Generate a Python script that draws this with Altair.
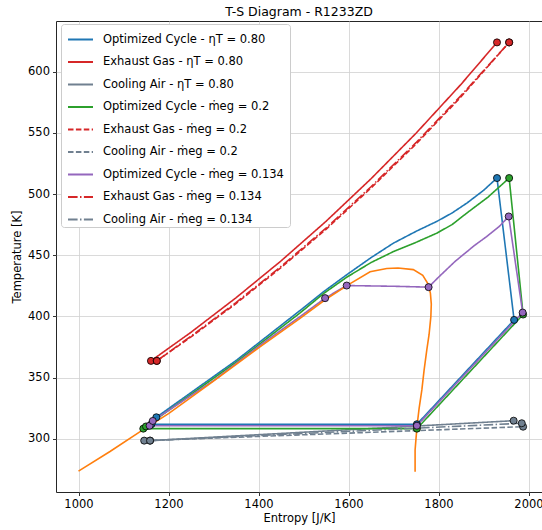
import altair as alt
import pandas as pd

# ---------------- data ----------------
names = [
    "Optimized Cycle - ηT =  0.80",
    "Exhaust Gas - ηT =  0.80",
    "Cooling Air - ηT =  0.80",
    "Optimized Cycle - ṁeg =  0.2",
    "Exhaust Gas - ṁeg =  0.2",
    "Cooling Air - ṁeg =  0.2",
    "Optimized Cycle - ṁeg =  0.134",
    "Exhaust Gas - ṁeg =  0.134",
    "Cooling Air - ṁeg =  0.134",
]
colors = ["#1f77b4", "#d62728", "#708090",
          "#2ca02c", "#d62728", "#708090",
          "#9467bd", "#d62728", "#708090"]
dashes = [[1, 0], [1, 0], [1, 0],
          [1, 0], [5.5, 2.4], [5.5, 2.4],
          [1, 0], [9.6, 2.4, 1.5, 2.4], [9.6, 2.4, 1.5, 2.4]]

# saturation dome (orange)
dome_S = [1000, 1070, 1137, 1200, 1300, 1404, 1493, 1548, 1600, 1648, 1685, 1710, 1744,
          1765, 1776, 1782, 1784, 1783, 1779, 1774, 1768, 1763, 1757, 1753, 1750, 1748, 1748]
dome_T = [273.5, 289.5, 305.7, 320.5, 347.0, 375.3, 398.5, 413.6, 426.0, 436.5, 439.2, 439.5, 438.2,
          433.5, 427.0, 419.0, 410.0, 399.8, 385.0, 372.6, 356.0, 339.9, 325.0, 312.6, 300.0, 290.8, 273.0]

# cycle eta_T = 0.80 (blue)
blue_S = [1162, 1173, 1352, 1493, 1544, 1596, 1650, 1700, 1750, 1796, 1830, 1863, 1900, 1930, 1968, 1752, 1162]
blue_T = [311.8, 317.5, 364.4, 405.0, 420.0, 434.0, 448.0, 459.9, 469.5, 477.6, 484.5, 492.6, 503.0, 513.1, 397.1, 311.8, 311.8]

# cycle m_eg = 0.2 (green)
green_S = [1144, 1150, 1352, 1493, 1544, 1596, 1650, 1700, 1750, 1796, 1830, 1863, 1910, 1957, 1988, 1752, 1144]
green_T = [308.2, 310.0, 363.0, 403.0, 418.5, 432.0, 444.0, 453.0, 460.5, 468.0, 475.0, 484.5, 497.5, 513.1, 401.5, 308.2, 308.2]

# cycle m_eg = 0.134 (purple)
purple_S = [1158, 1165, 1300, 1404, 1493, 1548, 1596, 1700, 1778, 1800, 1837, 1880, 1908, 1935, 1956, 1987, 1752, 1158]
purple_T = [310.6, 314.5, 347.5, 376.5, 400.0, 414.9, 425.2, 424.6, 423.9, 432.0, 445.0, 458.0, 465.5, 473.5, 481.7, 403.1, 310.6, 310.6]

# exhaust gas lines
eg1_S = [1161, 1250, 1350, 1450, 1550, 1650, 1750, 1850, 1930]
eg1_T = [363.6, 387.0, 415.2, 445.3, 477.7, 512.5, 549.7, 589.7, 624.0]
eg2_S = [1174, 1250, 1350, 1450, 1550, 1650, 1750, 1850, 1957]
eg2_T = [363.6, 383.2, 410.5, 439.9, 471.2, 504.9, 540.9, 579.5, 624.0]
eg3_S = [1174, 1250, 1350, 1450, 1550, 1650, 1750, 1850, 1957]
eg3_T = [363.6, 383.8, 411.3, 440.8, 472.2, 506.0, 542.0, 580.5, 624.0]

# cooling air lines
air1_S = [1159, 1967]
air1_T = [298.4, 314.7]
air2_S = [1146, 1988]
air2_T = [298.4, 309.8]
air3_S = [1159, 1985]
air3_T = [298.4, 312.6]

# state points (markers)
blue_pts_S = [1162, 1173, 1930, 1968, 1752]
blue_pts_T = [311.8, 317.5, 513.1, 397.1, 311.8]
green_pts_S = [1144, 1150, 1957, 1988, 1752]
green_pts_T = [308.2, 310.0, 513.1, 401.5, 308.2]
purple_pts_S = [1158, 1165, 1548, 1596, 1778, 1956, 1987, 1752]
purple_pts_T = [310.6, 314.5, 414.9, 425.2, 423.9, 481.7, 403.1, 310.6]

# ---------------- tables ----------------
line_sets = [
    (names[0], blue_S, blue_T),
    (names[1], eg1_S, eg1_T),
    (names[2], air1_S, air1_T),
    (names[3], green_S, green_T),
    (names[4], eg2_S, eg2_T),
    (names[5], air2_S, air2_T),
    (names[6], purple_S, purple_T),
    (names[7], eg3_S, eg3_T),
    (names[8], air3_S, air3_T),
]
rows = []
for nm, ss, tt in line_sets:
    for i, (s, t) in enumerate(zip(ss, tt)):
        rows.append({"series": nm, "i": i, "S": s, "T": t})
lines_df = pd.DataFrame(rows)

dome_df = pd.DataFrame({"i": range(len(dome_S)), "S": dome_S, "T": dome_T})

pt_sets = [
    (names[0], blue_pts_S, blue_pts_T),
    (names[1], [eg1_S[0], eg1_S[-1]], [eg1_T[0], eg1_T[-1]]),
    (names[2], air1_S, air1_T),
    (names[3], green_pts_S, green_pts_T),
    (names[4], [eg2_S[0], eg2_S[-1]], [eg2_T[0], eg2_T[-1]]),
    (names[5], air2_S, air2_T),
    (names[6], purple_pts_S, purple_pts_T),
    (names[7], [eg3_S[0], eg3_S[-1]], [eg3_T[0], eg3_T[-1]]),
    (names[8], air3_S, air3_T),
]
prow = []
k = 0
for nm, ss, tt in pt_sets:
    for s, t in zip(ss, tt):
        prow.append({"series": nm, "k": k, "S": s, "T": t})
        k += 1
pts_df = pd.DataFrame(prow)

# ---------------- chart ----------------
FONT = "DejaVu Sans"
xs = alt.Scale(domain=[950, 2030], nice=False, zero=False)
ys = alt.Scale(domain=[256.4, 641.5], nice=False, zero=False)
xax = alt.Axis(title="Entropy [J/K]", values=[1000, 1200, 1400, 1600, 1800, 2000], format="d")
yax = alt.Axis(title="Temperature [K]", values=[300, 350, 400, 450, 500, 550, 600], format="d")

leg = alt.Legend(title=None, orient="none", legendX=5, legendY=3, fillColor="white",
                 strokeColor="#cccccc", cornerRadius=3, padding=2, symbolOffset=4,
                 labelFontSize=11.5, labelFont=FONT, labelColor="#000000",
                 labelLimit=400, symbolType="stroke", symbolSize=625,
                 symbolStrokeWidth=2, labelOffset=9, rowPadding=3.5)

lines = alt.Chart(lines_df).mark_line(strokeWidth=1.6).encode(
    x=alt.X("S:Q", scale=xs, axis=xax),
    y=alt.Y("T:Q", scale=ys, axis=yax),
    order="i:Q",
    color=alt.Color("series:N", scale=alt.Scale(domain=names, range=colors), legend=leg, sort=names),
    strokeDash=alt.StrokeDash("series:N", scale=alt.Scale(domain=names, range=dashes), legend=leg, sort=names),
)

dome = alt.Chart(dome_df).mark_line(strokeWidth=1.6, color="#ff7f0e").encode(
    x=alt.X("S:Q", scale=xs),
    y=alt.Y("T:Q", scale=ys),
    order="i:Q",
)

points = alt.Chart(pts_df).mark_circle(size=50, opacity=1, stroke="black", strokeWidth=0.8).encode(
    x=alt.X("S:Q", scale=xs),
    y=alt.Y("T:Q", scale=ys),
    fill=alt.Fill("series:N", scale=alt.Scale(domain=names, range=colors), legend=None),
    order="k:Q",
)

chart = alt.layer(lines, dome, points).properties(
    width=486, height=471,
    padding={"left": 56, "top": 21, "right": 0, "bottom": 38},
    autosize=alt.AutoSizeParams(type="none"),
    title=alt.TitleParams("T-S Diagram - R1233ZD", fontSize=12.5, font=FONT,
                          fontWeight="normal", color="#000000", offset=3, anchor="middle"),
).configure_view(
    stroke="#262626", strokeWidth=1
).configure_axis(
    grid=True, gridColor="#d0d0d0", gridWidth=0.8, domain=False,
    tickColor="#000000", tickSize=3.5, tickWidth=0.8,
    labelFont=FONT, labelFontSize=11.5, labelColor="#000000", labelPadding=3,
    titleFont=FONT, titleFontSize=11.5, titleFontWeight="normal", titleColor="#000000",
).configure_axisX(
    titlePadding=2, labelFlush=False
).configure_axisY(
    titlePadding=5, labelFlush=False
)

chart.save("out.html", embed_options={"renderer": "svg", "actions": False})
